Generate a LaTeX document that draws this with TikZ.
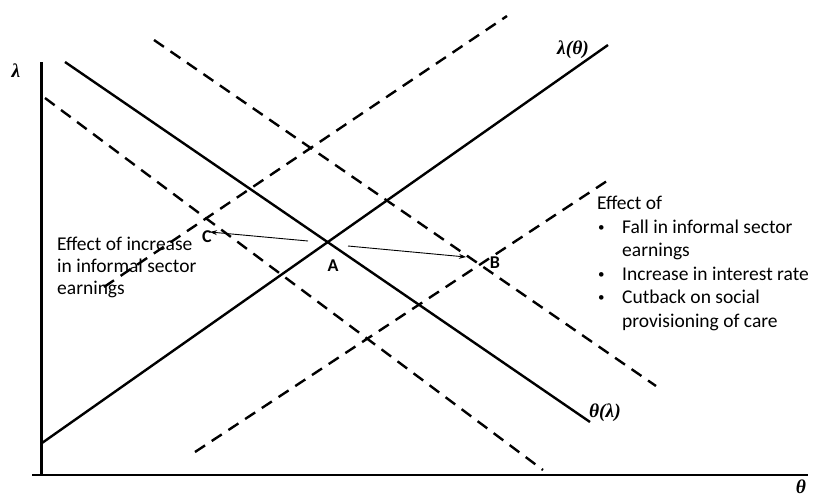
\documentclass[tikz,border=0pt]{standalone}
\usepackage{fontspec}
\setmainfont{Carlito}
\newfontfamily\mathlike{Liberation Serif}
\usetikzlibrary{arrows.meta}
\begin{document}
\begin{tikzpicture}[x=1pt,y=-1pt,
  axisline/.style={line width=2.6pt},
  curve/.style={line width=2.4pt},
  dcurve/.style={line width=2.4pt,dash pattern=on 12pt off 8pt},
  shiftarrow/.style={line width=0.9pt,-{Stealth[length=7pt,width=5pt]}},
  mlabel/.style={font=\fontsize{19.5}{21}\mathlike\bfseries\itshape,inner sep=0pt},
  ptlabel/.style={font=\fontsize{18}{20}\selectfont\bfseries,inner sep=0pt},
  txt/.style={font=\fontsize{19.5}{23}\selectfont,inner sep=0pt,anchor=base west},
  bul/.style={font=\fontsize{13}{15}\selectfont,inner sep=0pt,anchor=base west}]
\useasboundingbox (0,0) rectangle (817,498);
% axes
\coordinate (ytop) at (41.5,62);
\coordinate (origin) at (41.5,475);
\coordinate (xleft) at (32,475);
\coordinate (xright) at (808,475);
\draw[axisline] (ytop) -- (origin);
\draw[axisline] (xleft) -- (xright);
% solid curves
\coordinate (t1) at (65,62);
\coordinate (t2) at (590,422);
\coordinate (l1) at (42,443);
\coordinate (l2) at (608,45);
\draw[curve] (t1) -- (t2);
\draw[curve] (l1) -- (l2);
% dashed curves
\coordinate (du1) at (154,40);
\coordinate (du2) at (656,386);
\coordinate (dl1) at (45,98);
\coordinate (dl2) at (543,470);
\coordinate (ru1) at (104,287);
\coordinate (ru2) at (507,16);
\coordinate (rl1) at (195,452);
\coordinate (rl2) at (610,179);
\draw[dcurve] (du1) -- (du2);
\draw[dcurve] (dl1) -- (dl2);
\draw[dcurve] (ru1) -- (ru2);
\draw[dcurve] (rl1) -- (rl2);
% axis labels
\node[mlabel] (lam) at (16,71) {λ};
\node[mlabel] (th) at (801,487) {θ};
\node[mlabel] (lamth) at (573,50) {λ(θ)};
\node[mlabel] (thlam) at (605,413) {θ(λ)};
% points
\node[ptlabel] (A) at (333,266) {A};
\node[ptlabel] (B) at (495,263) {B};
\node[ptlabel] (C) at (207,237) {C};
\coordinate (Aleft) at (308,241);
\coordinate (Cend) at (210,232);
\coordinate (Aright) at (348,246);
\coordinate (Bend) at (466,257);
\draw[shiftarrow] (Aleft) -- (Cend);
\draw[shiftarrow] (Aright) -- (Bend);
% left text
\node[txt] (lt1) at (57,250) {Effect of increase};
\node[txt] (lt2) at (57,272) {in informal sector};
\node[txt] (lt3) at (57,294) {earnings};
% right text
\node[txt] (effect) at (597,209) {Effect of};
\node[bul] (b1) at (598,231) {•};
\node[txt] (r1) at (622,233) {Fall in informal sector};
\node[txt] (r2) at (622,256) {earnings};
\node[bul] (b2) at (598,278) {•};
\node[txt] (r3) at (622,280) {Increase in interest rate};
\node[bul] (b3) at (598,301) {•};
\node[txt] (r4) at (622,303) {Cutback on social};
\node[txt] (r5) at (622,327) {provisioning of care};
\end{tikzpicture}
\end{document}
